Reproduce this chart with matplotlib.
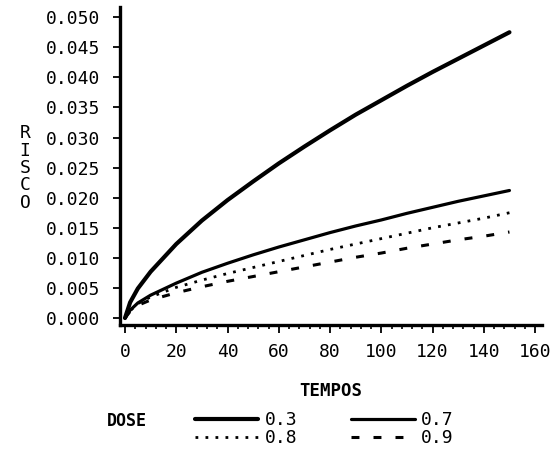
import matplotlib
matplotlib.use("Agg")
import matplotlib.pyplot as plt
from matplotlib.ticker import MultipleLocator, FormatStrFormatter

tempos = [0, 2, 5, 10, 20, 30, 40, 50, 60, 70, 80, 90, 100, 110, 120, 130, 140, 150]
dose_labels = ["0.3", "0.7", "0.8", "0.9"]
risco_03 = [0.0, 0.0026, 0.0049, 0.0077, 0.0123, 0.0162, 0.0196, 0.0227, 0.0257,
            0.0285, 0.0312, 0.0338, 0.0362, 0.0386, 0.0409, 0.0431, 0.0453, 0.0475]
risco_07 = [0.0, 0.0013, 0.0025, 0.0038, 0.0058, 0.0076, 0.0091, 0.0105, 0.0118,
            0.0130, 0.0142, 0.0153, 0.0163, 0.0174, 0.0184, 0.0194, 0.0203, 0.0212]
risco_08 = [0.0, 0.0012, 0.0024, 0.0035, 0.0051, 0.0063, 0.0074, 0.0084, 0.0094,
            0.0104, 0.0114, 0.0123, 0.0132, 0.0141, 0.0150, 0.0158, 0.0166, 0.0175]
risco_09 = [0.0, 0.0011, 0.0021, 0.0030, 0.0042, 0.0052, 0.0061, 0.0069, 0.0077,
            0.0085, 0.0093, 0.0101, 0.0108, 0.0116, 0.0123, 0.0130, 0.0136, 0.0143]
x_ticks = [0, 20, 40, 60, 80, 100, 120, 140, 160]

FONT = "DejaVu Sans Mono"
plt.rcParams["font.family"] = FONT

fig = plt.figure(figsize=(5.6, 4.49), dpi=100)
ax = fig.add_axes([120/560, 1-325/449, (542-120)/560, (325-7)/449])

styles = [
    dict(color="black", lw=3.0, ls="-"),
    dict(color="black", lw=2.3, ls="-"),
    dict(color="black", lw=2.0, ls=(0, (1.0, 2.6))),
    dict(color="black", lw=2.2, ls=(0, (2.6, 4.6))),
]
series = [risco_03, risco_07, risco_08, risco_09]
handles = []
for vals, st, lab in zip(series, styles, dose_labels):
    h, = ax.plot(tempos, vals, label=lab, solid_capstyle="round", **st)
    handles.append(h)

ax.set_xlim(-1.95, 162.7)
ax.set_ylim(-0.00116, 0.0517)
ax.set_xticks(x_ticks)
ax.xaxis.set_minor_locator(MultipleLocator(4))
ax.yaxis.set_major_locator(MultipleLocator(0.005))
ax.yaxis.set_major_formatter(FormatStrFormatter("%.3f"))

for s in ["top", "right"]:
    ax.spines[s].set_visible(False)
for s in ["left", "bottom"]:
    ax.spines[s].set_linewidth(2.4)

ax.tick_params(axis="both", which="major", direction="out", length=5, width=1.3,
               labelsize=13, colors="black")
ax.tick_params(axis="x", which="major", length=6, pad=7)
ax.tick_params(axis="x", which="minor", direction="out", length=3, width=1.2)
ax.tick_params(axis="y", which="major", pad=9)

ax.set_xlabel("TEMPOS", fontsize=12.5, fontweight="bold", labelpad=15)
fig.text(25/560, 1-168/449, "R\nI\nS\nC\nO", ha="center", va="center",
         fontsize=13, linespacing=0.95)

fig.text(107/560, 1-421/449, "DOSE", ha="left", va="center",
         fontsize=12, fontweight="bold")
order = [0, 2, 1, 3]
leg = fig.legend([handles[i] for i in order], [dose_labels[i] for i in order],
                 ncol=2, loc="upper left", bbox_to_anchor=(195/560, 1-411/449),
                 frameon=False, fontsize=13, handlelength=3.5, handletextpad=0.35,
                 columnspacing=3.0, labelspacing=0.0, borderpad=0, borderaxespad=0)

fig.savefig("out.png", dpi=100)
